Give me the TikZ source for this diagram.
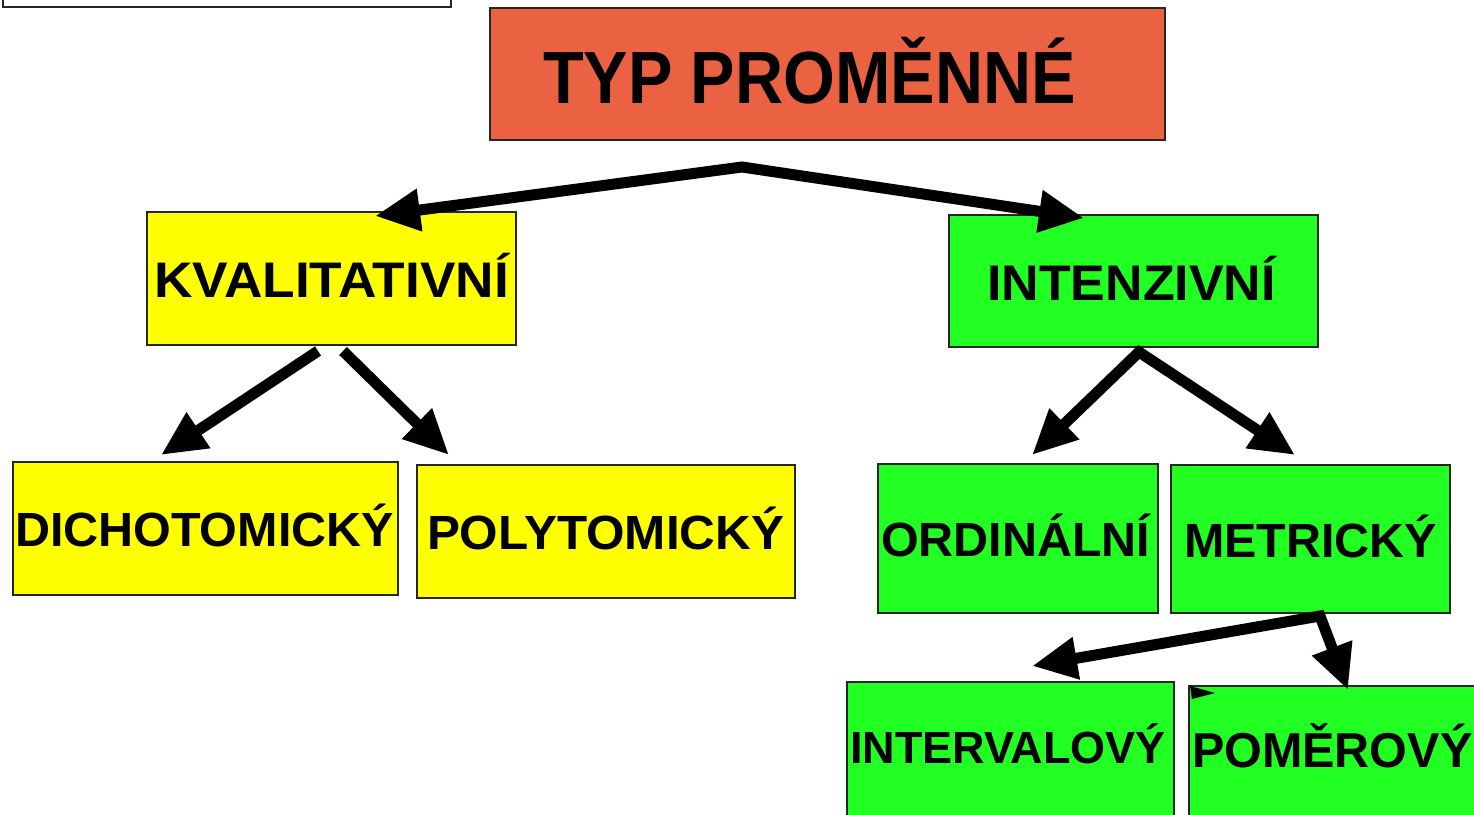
\documentclass[tikz,border=0pt]{standalone}
\usepackage{fontspec}
\setmainfont{Liberation Sans}
\usetikzlibrary{arrows.meta}
\definecolor{titlered}{HTML}{EA6242}
\definecolor{boxyellow}{HTML}{FFFF00}
\definecolor{boxgreen}{HTML}{22FF22}
\tikzset{
  box/.style={draw=black!85, line width=1.5pt, inner sep=0pt, outer sep=0pt},
  lbl/.style={anchor=base west, inner sep=0pt, outer sep=0pt},
  fs/.style={font=\fontsize{#1}{#1}\selectfont\bfseries},
  arr/.style={line width=11pt, black, line join=miter, -{Triangle[length=45pt,width=40pt]}},
  darr/.style={line width=11pt, black, line join=miter, {Triangle[length=45pt,width=40pt]}-{Triangle[length=45pt,width=40pt]}},
}
\newcommand\mybox[6]{\node[box,fill=#2,minimum width={#5pt-#3pt},minimum height={#6pt-#4pt}] (#1) at ({(#3+#5)/2},{(#4+#6)/2}) {};}
\begin{document}
\begin{tikzpicture}[x=1pt,y=-1pt]
\useasboundingbox (0,0) rectangle (1474,814);
\clip (0,0) rectangle (1474,814);
\fill[white] (0,0) rectangle (1474,814);
% partial box top-left
\mybox{corner}{white}{3}{-30}{451}{7}
% boxes
\mybox{typ}{titlered}{490}{8}{1165}{140}
\mybox{kval}{boxyellow}{147}{212}{516}{345}
\mybox{inten}{boxgreen}{949}{215}{1318}{347}
\mybox{dicho}{boxyellow}{13}{462}{398}{595}
\mybox{poly}{boxyellow}{417}{465}{795}{598}
\mybox{ordin}{boxgreen}{878}{464}{1158}{613}
\mybox{metr}{boxgreen}{1171}{465}{1450}{613}
\mybox{inter}{boxgreen}{847}{682}{1174}{840}
\mybox{pomer}{boxgreen}{1189}{686}{1490}{840}
% labels
\node[lbl,fs=74] (ttyp) at (543,103) {\scalebox{0.9}[1]{TYP PROMĚNNÉ}};
\node[lbl,fs=50] (tkval) at (154,297) {\scalebox{1.065}[1]{KVALITATIVNÍ}};
\node[lbl,fs=50] (tinten) at (987,300) {\scalebox{1.04}[1]{INTENZIVNÍ}};
\node[lbl,fs=48] (tdicho) at (15,546) {\scalebox{1.01}[1]{DICHOTOMICKÝ}};
\node[lbl,fs=48] (tpoly) at (427,549) {\scalebox{1.03}[1]{POLYTOMICKÝ}};
\node[lbl,fs=48] (tordin) at (881,556) {\scalebox{1.01}[1]{ORDINÁLNÍ}};
\node[lbl,fs=48] (tmetr) at (1184,557) {\scalebox{1.01}[1]{METRICKÝ}};
\node[lbl,fs=45] (tinter) at (850,763) {\scalebox{1.0}[1]{INTERVALOVÝ}};
\node[lbl,fs=49] (tpomer) at (1192,767) {\scalebox{0.99}[1]{POMĚROVÝ}};
% connector points
\coordinate (apexTop) at (742,167);
\coordinate (kvalIn) at (375,216);
\coordinate (intenIn) at (1084,218);
\coordinate (kvalOutL) at (318,351);
\coordinate (kvalOutR) at (343,351);
\coordinate (dichoIn) at (161,455);
\coordinate (polyIn) at (449,455);
\coordinate (apexInten) at (1139,352);
\coordinate (ordinIn) at (1032,455);
\coordinate (metrIn) at (1295,455);
\coordinate (apexMetr) at (1320,616);
\coordinate (interIn) at (1032,666);
\coordinate (pomerIn) at (1348,690);
% connectors
\draw[darr] (kvalIn) -- (apexTop) -- (intenIn);
\draw[arr] (kvalOutL) -- (dichoIn);
\draw[arr] (kvalOutR) -- (polyIn);
\draw[darr] (ordinIn) -- (apexInten) -- (metrIn);
\draw[darr] (interIn) -- (apexMetr) -- (pomerIn);
% small stray arrowhead
\fill[black] (1190,686) -- (1215,693) -- (1192,699) -- cycle;
\end{tikzpicture}
\end{document}
